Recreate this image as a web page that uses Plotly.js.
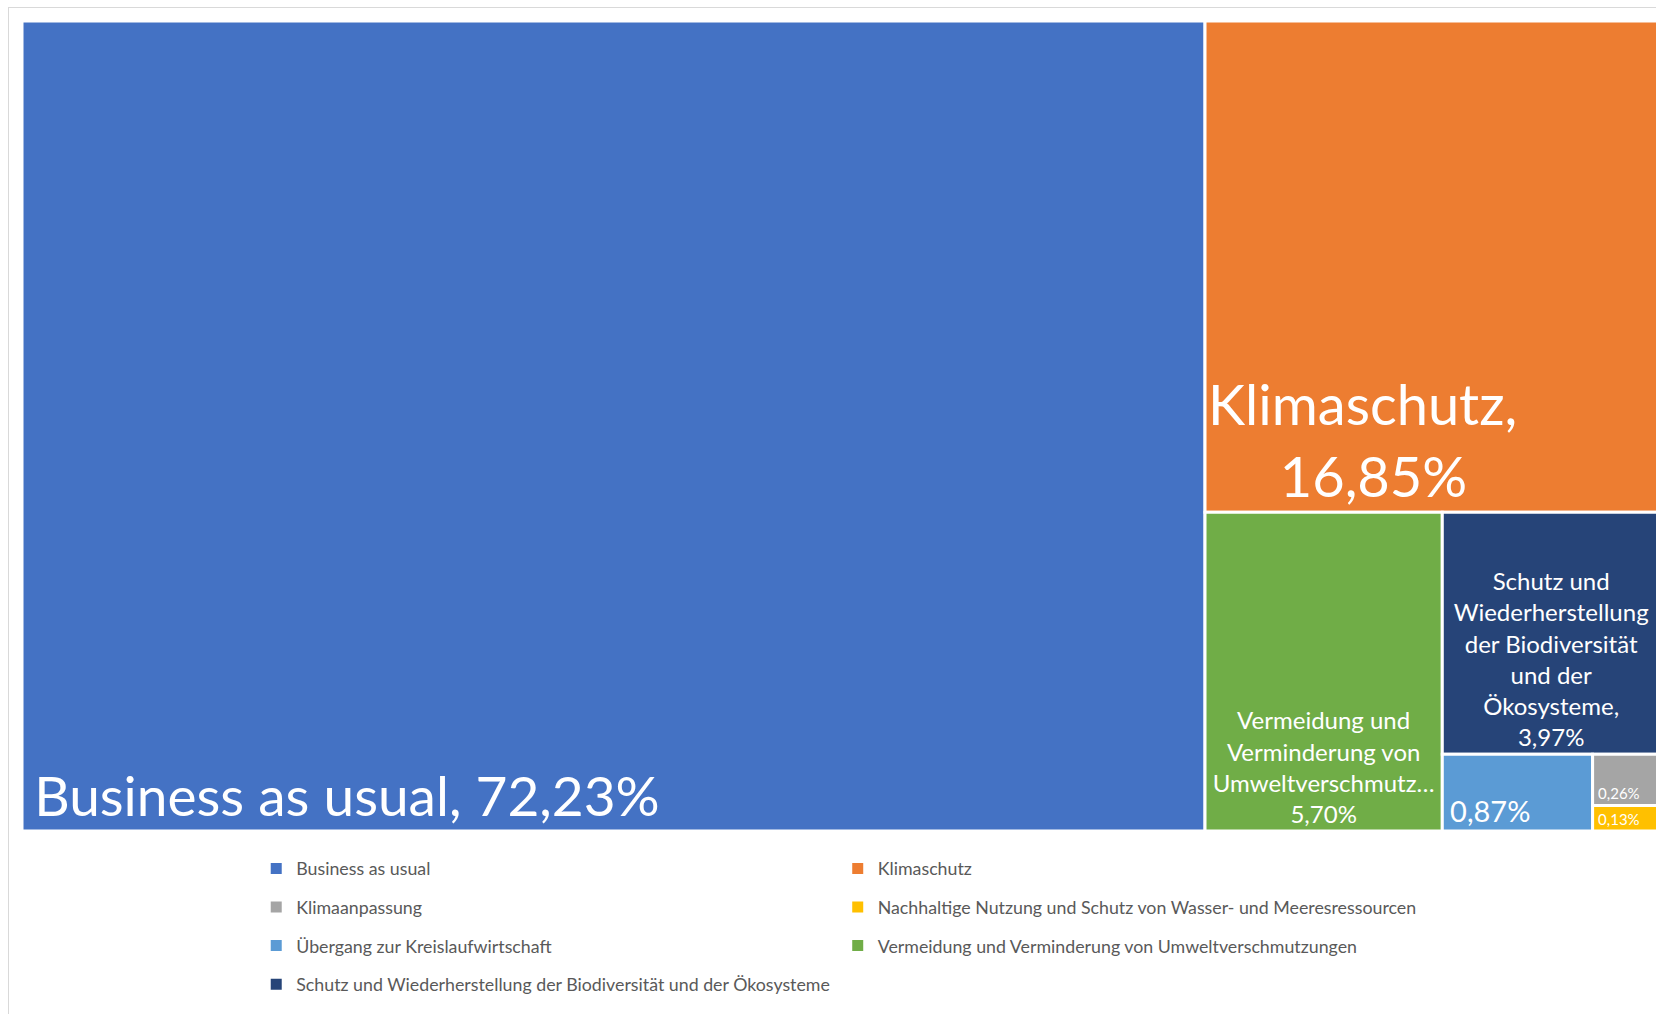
<!DOCTYPE html>
<html>
<head>
<meta charset="utf-8">
<script src="https://cdn.plot.ly/plotly-3.0.1.min.js"></script>
<style>
  html, body { margin: 0; padding: 0; background: #ffffff; overflow: hidden; width: 1656px; height: 1014px; }
  #frame { position: absolute; left: 8px; top: 7px; width: 1700px; height: 1100px; border: 1px solid #d9d9d9; box-sizing: border-box; }
  #chart { position: absolute; left: 0; top: 0; width: 1662px; height: 1014px; }
</style>
</head>
<body>
<div id="frame"></div>
<div id="chart"></div>
<script>
// ---- data (legend order) ----
const categories = [
  'Business as usual',
  'Klimaschutz',
  'Klimaanpassung',
  'Nachhaltige Nutzung und Schutz von Wasser- und Meeresressourcen',
  'Übergang zur Kreislaufwirtschaft',
  'Vermeidung und Verminderung von Umweltverschmutzungen',
  'Schutz und Wiederherstellung der Biodiversität und der Ökosysteme'
];
const shares = [72.23, 16.85, 0.26, 0.13, 0.87, 5.70, 3.97];
const colors = ['#4472C4', '#ED7D31', '#A5A5A5', '#FFC000', '#5B9BD5', '#70AD47', '#264478'];
const tileLabels = [
  'Business as usual',
  'Klimaschutz',
  '',
  '',
  '',
  'Vermeidung und<br>Verminderung von<br>Umweltverschmutz…',
  'Schutz und<br>Wiederherstellung<br>der Biodiversität<br>und der<br>Ökosysteme'
];

// ---- per-tile label style ----
const NB = '\u00a0';
const SIXTH = '\u2006';
const tplLeft = [
  SIXTH + '%{text}, %{value:.2f}%',
  '%{text},<br>' + NB.repeat(5) + '%{value:.2f}%',
  SIXTH + '%{value:.2f}%',
  SIXTH + '%{value:.2f}%',
  SIXTH + '%{value:.2f}%',
  '',
  ''
];
const tplCenter = [
  '', '', '', '', '',
  '%{text}<br>%{value:.2f}%',
  '%{text},<br>%{value:.2f}%'
];
const textSizes = [55, 56, 15, 15, 29, 24, 24];
const FONT = 'Lato, "Open Sans", sans-serif';
const parents = categories.map(() => '');

const common = {
  type: 'treemap',
  labels: categories,
  parents: parents,
  values: shares,
  text: tileLabels,
  sort: true,
  branchvalues: 'total',
  tiling: { packing: 'squarify', squarifyratio: 1, pad: 0 },
  pathbar: { visible: false },
  hoverinfo: 'skip',
  domain: { x: [0, 1], y: [0, 1] },
  textfont: { family: FONT, size: textSizes, color: '#ffffff' },
  showlegend: false
};

const tmMain = Object.assign({}, common, {
  texttemplate: tplLeft,
  textposition: 'bottom left',
  marker: { colors: colors, line: { color: '#ffffff', width: 3 }, pad: { t: 0, l: 0, r: 0, b: 0 } }
});
const tmCenter = Object.assign({}, common, {
  texttemplate: tplCenter,
  textposition: 'bottom center',
  marker: { colors: categories.map(() => 'rgba(0,0,0,0)'), line: { color: 'rgba(0,0,0,0)', width: 0 }, pad: { t: 0, l: 0, r: 0, b: 0 } }
});

// legend-only entries
const legendTraces = categories.map((c, i) => ({
  type: 'scatter',
  mode: 'markers',
  x: [null],
  y: [null],
  name: c,
  legend: i % 2 === 0 ? 'legend' : 'legend2',
  legendgroup: 'g' + i,
  marker: { symbol: 'square', size: 11, color: colors[i] },
  hoverinfo: 'skip'
}));

const legendFont = { family: FONT, size: 17.8, color: '#595959' };

const layout = {
  width: 1662,
  height: 1014,
  margin: { l: 22, r: 2, t: 21, b: 183 },
  paper_bgcolor: 'rgba(0,0,0,0)',
  plot_bgcolor: 'rgba(0,0,0,0)',
  separators: ',.',
  font: { family: FONT },
  xaxis: { visible: false },
  yaxis: { visible: false },
  showlegend: true,
  legend: {
    x: 0.143, xanchor: 'left', y: -0.024, yanchor: 'top',
    orientation: 'v', font: legendFont, tracegroupgap: 12.4,
    bgcolor: 'rgba(0,0,0,0)', itemclick: false, itemdoubleclick: false
  },
  legend2: {
    x: 0.498, xanchor: 'left', y: -0.024, yanchor: 'top',
    orientation: 'v', font: legendFont, tracegroupgap: 12.4,
    bgcolor: 'rgba(0,0,0,0)', itemclick: false, itemdoubleclick: false
  }
};

Plotly.newPlot('chart', [tmMain, tmCenter].concat(legendTraces), layout, { displayModeBar: false, staticPlot: true });
</script>
</body>
</html>
